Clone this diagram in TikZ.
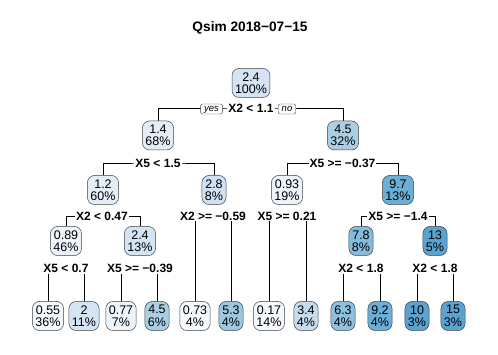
\documentclass[tikz,border=0pt]{standalone}
\usepackage{fontspec}
\setmainfont{Liberation Sans}
\usetikzlibrary{backgrounds}
\definecolor{b1}{HTML}{F5F9FE}
\definecolor{b2}{HTML}{EDF4FC}
\definecolor{b3}{HTML}{E3EEF9}
\definecolor{b4}{HTML}{D4E4F4}
\definecolor{b5}{HTML}{CFE1F2}
\definecolor{b6}{HTML}{C6DBEF}
\definecolor{b7}{HTML}{AACFE5}
\definecolor{b8}{HTML}{9CC9E1}
\definecolor{b9}{HTML}{8EC1DE}
\definecolor{b10}{HTML}{84BCDB}
\definecolor{b11}{HTML}{6BAED6}
\definecolor{b12}{HTML}{5AA3D0}
\tikzset{
  tnode/.style={draw=black!75, line width=0.5pt, rounded corners=7pt, align=center,
    inner xsep=3pt, inner ysep=1pt, minimum height=29pt,
    font=\fontsize{12.5}{12.5}\selectfont},
  slab/.style={fill=white, inner xsep=1pt, inner ysep=1pt,
    font=\fontsize{12}{13}\selectfont\bfseries},
  yn/.style={draw=black!75, fill=white, line width=0.4pt, rounded corners=2pt,
    inner xsep=3.5pt, inner ysep=1pt, text height=6.5pt, text depth=1.5pt,
    font=\fontsize{9.5}{10}\selectfont\itshape},
  edge/.style={draw=black, line width=0.5pt}
}
\begin{document}
\begin{tikzpicture}[x=1pt,y=-1pt]
\useasboundingbox (0,0) rectangle (498,355);
\node[font=\fontsize{13.7}{15}\selectfont\bfseries] (title) at (250,28) {Qsim 2018−07−15};
% nodes
\node[tnode, fill=b4] (r) at (251,83) {2.4\\100\%};
\node[tnode, fill=b3] (a) at (158,135.5) {1.4\\68\%};
\node[tnode, fill=b7] (b) at (343,135.5) {4.5\\32\%};
\node[tnode, fill=b3] (aa) at (103,190) {1.2\\60\%};
\node[tnode, fill=b5] (ab) at (214,190) {2.8\\8\%};
\node[tnode, fill=b2] (ba) at (287,190) {0.93\\19\%};
\node[tnode, fill=b11] (bb) at (398,190) {9.7\\13\%};
\node[tnode, fill=b2] (aaa) at (66,241) {0.89\\46\%};
\node[tnode, fill=b4] (aab) at (140,241) {2.4\\13\%};
\node[tnode, fill=b10] (bba) at (361,241) {7.8\\8\%};
\node[tnode, fill=b12] (bbb) at (435,241) {13\\5\%};
\node[tnode, fill=b1] (l1) at (48,316) {0.55\\36\%};
\node[tnode, fill=b4] (l2) at (84,316) {2\\11\%};
\node[tnode, fill=b2] (l3) at (121,316) {0.77\\7\%};
\node[tnode, fill=b7] (l4) at (157,316) {4.5\\6\%};
\node[tnode, fill=b1] (l5) at (195,316) {0.73\\4\%};
\node[tnode, fill=b8] (l6) at (231,316) {5.3\\4\%};
\node[tnode, fill=b1] (l7) at (269,316) {0.17\\14\%};
\node[tnode, fill=b6] (l8) at (306,316) {3.4\\4\%};
\node[tnode, fill=b9] (l9) at (343,316) {6.3\\4\%};
\node[tnode, fill=b11] (l10) at (380,316) {9.2\\4\%};
\node[tnode, fill=b12] (l11) at (417,316) {10\\3\%};
\node[tnode, fill=b12] (l12) at (453,316) {15\\3\%};
% split labels
\node[slab] (s0) at (251,108) {X2 < 1.1};
\node[yn] (yes) at (211.5,109) {yes};
\node[yn] (no) at (287,109) {no};
\node[slab] (s1) at (158,163) {X5 < 1.5};
\node[slab] (s2) at (342.5,163) {X5 >= −0.37};
\node[slab] (s3) at (102,216) {X2 < 0.47};
\node[slab] (s4) at (213,216) {X2 >= −0.59};
\node[slab] (s5) at (287,216) {X5 >= 0.21};
\node[slab] (s6) at (398,216) {X5 >= −1.4};
\node[slab] (s7) at (66,268.5) {X5 < 0.7};
\node[slab] (s8) at (140,268.5) {X5 >= −0.39};
\node[slab] (s9) at (361,268.5) {X2 < 1.8};
\node[slab] (s10) at (435,268.5) {X2 < 1.8};
% connectors
\begin{scope}[on background layer]
\draw[edge] (a.north) |- (s0.center) -| (b.north);
\draw[edge] (aa.north) |- (s1.center) -| (ab.north);
\draw[edge] (ba.north) |- (s2.center) -| (bb.north);
\draw[edge] (aaa.north) |- (s3.center) -| (aab.north);
\draw[edge] (l5.north) |- (s4.center) -| (l6.north);
\draw[edge] (l7.north) |- (s5.center) -| (l8.north);
\draw[edge] (bba.north) |- (s6.center) -| (bbb.north);
\draw[edge] (l1.north) |- (s7.center) -| (l2.north);
\draw[edge] (l3.north) |- (s8.center) -| (l4.north);
\draw[edge] (l9.north) |- (s9.center) -| (l10.north);
\draw[edge] (l11.north) |- (s10.center) -| (l12.north);
\end{scope}
\end{tikzpicture}
\end{document}
